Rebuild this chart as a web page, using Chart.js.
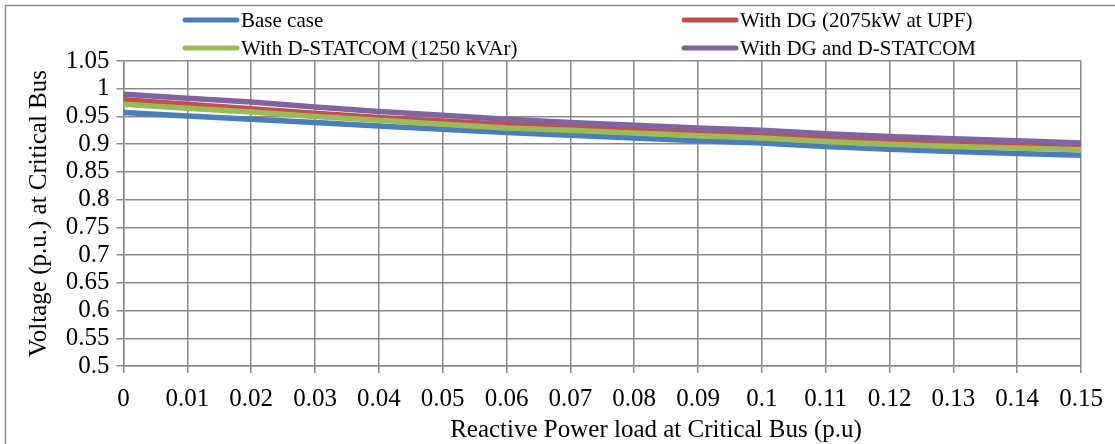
<!DOCTYPE html>
<html>
<head>
<meta charset="utf-8">
<script src="https://cdn.jsdelivr.net/npm/chart.js@4"></script>
<style>
  html, body { margin: 0; padding: 0; background: #fff; }
  #wrap { width: 1115px; height: 444px; }
</style>
</head>
<body>
<div id="wrap"><canvas id="chart" width="1115" height="444"></canvas></div>
<script>
const loadLabels = ["0", "0.01", "0.02", "0.03", "0.04", "0.05", "0.06", "0.07",
  "0.08", "0.09", "0.1", "0.11", "0.12", "0.13", "0.14", "0.15"];

const baseCase = [0.957, 0.951, 0.945, 0.939, 0.933, 0.927, 0.921, 0.916,
  0.911, 0.906, 0.902, 0.896, 0.891, 0.887, 0.883, 0.880];
const withDG = [0.980, 0.972, 0.964, 0.956, 0.948, 0.942, 0.936, 0.931,
  0.926, 0.922, 0.918, 0.912, 0.907, 0.903, 0.900, 0.897];
const withStatcom = [0.972, 0.965, 0.958, 0.950, 0.943, 0.936, 0.929, 0.925,
  0.920, 0.915, 0.911, 0.905, 0.900, 0.896, 0.893, 0.890];
const withBoth = [0.990, 0.983, 0.976, 0.967, 0.959, 0.952, 0.945, 0.939,
  0.934, 0.929, 0.925, 0.919, 0.914, 0.910, 0.906, 0.902];

const seriesNames = ["Base case", "With DG (2075kW at UPF)",
  "With D-STATCOM (1250 kVAr)", "With DG and D-STATCOM"];
const seriesColors = ["#4a7ebb", "#c0504d", "#9bbb59", "#8064a2"];
const xTitle = "Reactive Power load at Critical Bus (p.u)";

const serif = "'Liberation Serif', 'Times New Roman', serif";
const gridGrey = "#8a8a8a";

// frame, two-column legend and the (off-centre) x title, as in the Excel original
const framePlugin = {
  id: "frame",
  beforeDraw(chart) {
    const c = chart.ctx;
    c.save();
    c.fillStyle = "#fff";
    c.fillRect(0, 0, chart.width, chart.height);
    c.strokeStyle = "#8c8c8c";
    c.lineWidth = 1.5;
    c.beginPath();
    c.moveTo(5.5, chart.height);
    c.lineTo(5.5, 5.5);
    c.lineTo(chart.width, 5.5);
    c.stroke();
    c.restore();
  },
  afterDraw(chart) {
    const c = chart.ctx;
    const cols = [185, 684];
    const rows = [20, 48];
    c.save();
    c.font = "21px " + serif;
    c.textBaseline = "middle";
    c.fillStyle = "#000";
    chart.data.datasets.forEach(function (ds, i) {
      const x = cols[i % 2];
      const y = rows[Math.floor(i / 2)];
      c.strokeStyle = ds.borderColor;
      c.lineWidth = 5;
      c.lineCap = "round";
      c.beginPath();
      c.moveTo(x, y);
      c.lineTo(x + 52, y);
      c.stroke();
      c.fillText(ds.label, x + 56, y + 1);
    });
    c.font = "25px " + serif;
    c.textAlign = "center";
    c.textBaseline = "alphabetic";
    c.fillText(xTitle, 656, 437);
    c.restore();
  }
};

const datasets = [baseCase, withDG, withStatcom, withBoth].map(function (vals, i) {
  return {
    label: seriesNames[i],
    data: vals,
    borderColor: seriesColors[i],
    backgroundColor: seriesColors[i],
    borderWidth: 5.5,
    pointRadius: 0,
    tension: 0,
    order: 4 - i
  };
});

new Chart(document.getElementById("chart"), {
  type: "line",
  data: { labels: loadLabels, datasets: datasets },
  plugins: [framePlugin],
  options: {
    responsive: false,
    animation: false,
    layout: { padding: { top: 61, right: 34, left: 0, bottom: 0 } },
    plugins: { legend: { display: false }, tooltip: { enabled: false } },
    scales: {
      x: {
        offset: false,
        grid: { color: gridGrey, lineWidth: 1.5, tickLength: 7, offset: false },
        border: { color: gridGrey, width: 1.5 },
        ticks: { color: "#000", font: { family: serif, size: 25 }, padding: 11, maxRotation: 0, autoSkip: false },
        title: { display: false },
        afterFit(scale) { scale.height = 78; }
      },
      y: {
        min: 0.5,
        max: 1.05,
        grid: { color: gridGrey, lineWidth: 1.5, tickLength: 7 },
        border: { color: gridGrey, width: 1.5 },
        ticks: {
          stepSize: 0.05,
          maxTicksLimit: 20,
          autoSkip: false,
          color: "#000",
          padding: 7,
          font: { family: serif, size: 25 },
          callback: function (v) { return String(parseFloat(v.toFixed(2))); }
        },
        title: { display: true, text: "Voltage (p.u.) at Critical Bus", color: "#000",
          font: { family: serif, size: 25 }, padding: { top: 24, bottom: 0 } },
        afterFit(scale) { scale.width = 123.5; }
      }
    }
  }
});
</script>
</body>
</html>
